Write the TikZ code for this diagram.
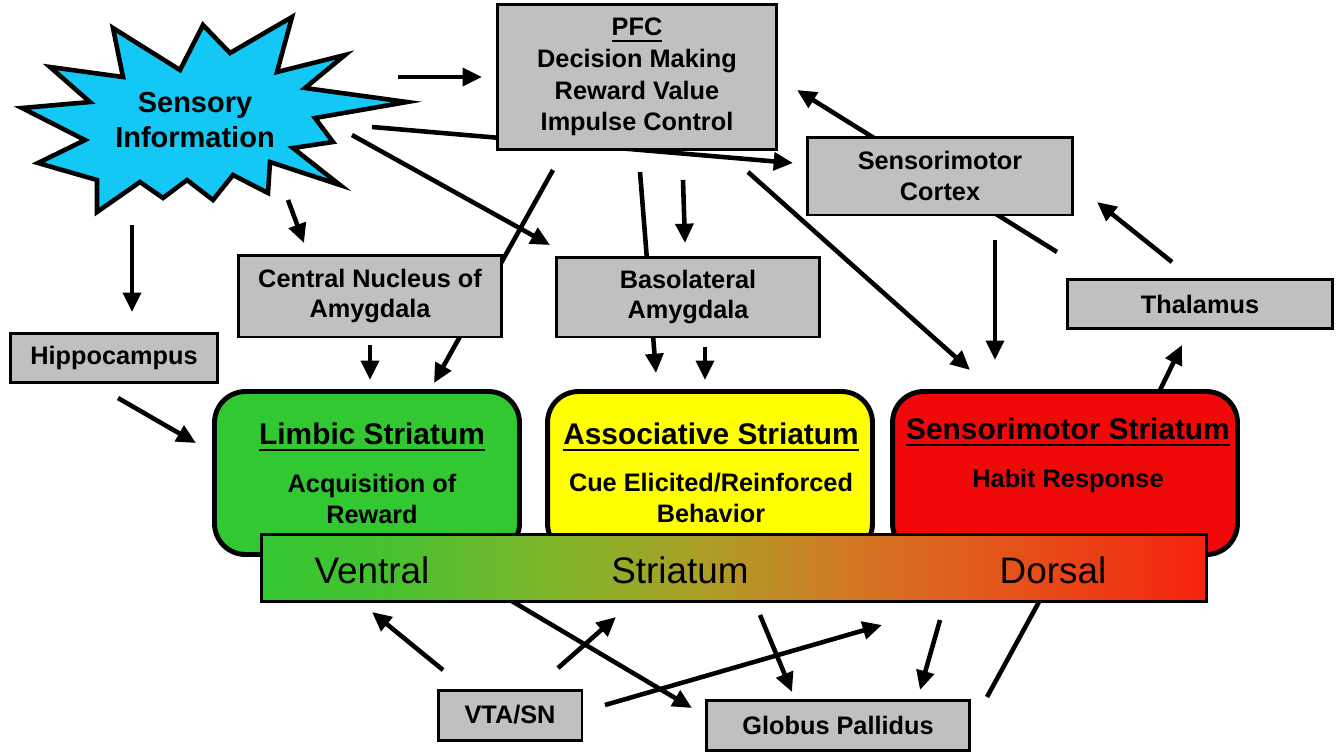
\documentclass[tikz,border=0pt]{standalone}
\usepackage{fontspec}
\setmainfont{Liberation Sans}
\usetikzlibrary{arrows.meta}
\newcommand{\ulbox}[1]{\setbox0\hbox{#1}\rlap{\rule[-3.4pt]{\wd0}{1.1pt}}\box0}
\definecolor{boxgray}{RGB}{192,192,192}
\definecolor{sensblue}{RGB}{20,200,245}
\definecolor{limbgreen}{RGB}{50,200,50}
\definecolor{assocyel}{RGB}{255,255,0}
\definecolor{smred}{RGB}{242,8,8}
\definecolor{barA}{RGB}{52,200,50}
\definecolor{barB}{RGB}{72,192,48}
\definecolor{barC}{RGB}{125,182,42}
\definecolor{barD}{RGB}{170,160,40}
\definecolor{barE}{RGB}{210,120,35}
\definecolor{barF}{RGB}{228,85,28}
\definecolor{barG}{RGB}{245,35,12}
\pgfdeclarehorizontalshading{stribar}{100bp}{color(0bp)=(barA); color(25bp)=(barA);
  color(32bp)=(barB); color(40bp)=(barC); color(48bp)=(barD); color(56bp)=(barE);
  color(64bp)=(barF); color(75bp)=(barG); color(100bp)=(barG)}

\begin{document}
\begin{tikzpicture}[
  x=0.02cm, y=-0.02cm,
  box/.style={draw, fill=boxgray, line width=1.7pt, inner sep=0pt, align=center,
    font=\bfseries\fontsize{14.4}{17.5}\selectfont},
  region/.style={draw, fill=#1, line width=2.8pt, rounded corners=0.62cm, inner sep=0pt,
    minimum height=3.26cm},
  title/.style={font=\bfseries\fontsize{17}{20}\selectfont},
  body/.style={font=\bfseries\fontsize{14.4}{17.2}\selectfont, align=center},
  big/.style={font=\fontsize{21}{24}\selectfont},
  arr/.style={-{Triangle[length=11pt,width=10pt]}, line width=2.6pt},
  plain/.style={line width=2.6pt}]
\useasboundingbox (0,0) rectangle (1341,755);

% connector ends
\foreach \n/\px/\py in {
  t1/398/77, h1/482/77, t2/372/127, h2/793/163, t3/352/135, h3/550/245,
  t4/288/200, h4/304/243, t5/132/225, h5/132/312, t6/553/170, h6/434/383,
  t7/370/345, h7/370/380, t8/640/172, h8/656/373, t9/683/180, h9/685/243,
  t10/705/347, h10/705/380, t11/748/172, h11/970/370, t12/995/240, h12/995/360,
  t13/1057/252, h13/797/90, t14/1172/262, h14/1097/202, t15/1160/390, h15/1182/345,
  t16/118/398, h16/196/443, t17/443/670, h17/372/612, t18/558/668, h18/616/617,
  t19/605/705, h19/882/625, t20/510/600, h20/692/708, t21/760/615, h21/792/692,
  t22/940/620, h22/920/690, t23/987/697, h23/1040/600}
  \coordinate (\n) at (\px,\py);

% sensory burst
\filldraw[fill=sensblue, line width=2.6pt, line join=miter]
  (22,108) -- (90,102) -- (50,67) -- (123,77) -- (113,28) -- (180,70) -- (203,25)
  -- (230,53) -- (292,17) -- (277,72) -- (345,55) -- (305,88) -- (407,102)
  -- (315,118) -- (333,142) -- (293,148) -- (340,185) -- (270,162) -- (268,193)
  -- (233,175) -- (213,200) -- (187,180) -- (163,198) -- (140,182) -- (97,212)
  -- (97,180) -- (38,163) -- (85,140) -- cycle;
\node[font=\bfseries\fontsize{16.5}{19.5}\selectfont, align=center] (sens) at (195,120)
  {Sensory\\Information};

% lines running behind boxes
\draw[arr] (t2) -- (h2);
\draw[arr] (t6) -- (h6);
\draw[arr] (t8) -- (h8);
\draw[arr] (t13) -- (h13);

% cortex and amygdala
\node[box, minimum width=5.6cm, minimum height=2.9cm, font=\bfseries\fontsize{14.4}{18}\selectfont]
  (pfc) at (637,77) {\ulbox{PFC}\\Decision Making\\Reward Value\\Impulse Control};
\node[box, minimum width=5.3cm, minimum height=1.56cm] (smc) at (940,176) {Sensorimotor\\Cortex};
\node[box, minimum width=5.3cm, minimum height=0.98cm] (thal) at (1200,304) {Thalamus};
\node[box, minimum width=4.16cm, minimum height=0.98cm] (hipp) at (114,358) {Hippocampus};
\node[box, minimum width=5.28cm, minimum height=1.64cm] (cea) at (370,296) {Central Nucleus of\\Amygdala};
\node[box, minimum width=5.28cm, minimum height=1.6cm] (bla) at (688,297) {Basolateral\\Amygdala};

% striatum
\node[region=limbgreen, minimum width=6.1cm] (limb) at (367,473) {};
\node[region=assocyel, minimum width=6.5cm] (assoc) at (710,473) {};
\node[region=smred, minimum width=6.9cm] (senstr) at (1065,473) {};
\node[title] (limbt) at (372,437) {\ulbox{Limbic Striatum}};
\node[body] (limbb) at (372,499) {Acquisition of\\Reward};
\node[title] (assoct) at (711,437) {\ulbox{Associative Striatum}};
\node[body] (assocb) at (711,498) {Cue Elicited/Reinforced\\Behavior};
\node[title] (senst) at (1068,432) {\ulbox{Sensorimotor Striatum}};
\node[body] (sensb) at (1068,481) {Habit Response};

\draw[arr] (t20) -- (h20);
\draw[plain] (t23) -- (h23);
\node[draw, line width=2pt, shading=stribar, minimum width=18.9cm, minimum height=1.34cm,
  inner sep=0pt] (bar) at (734,568) {};
\node[big] (ventral) at (372,570) {Ventral};
\node[big] (striatum) at (680,570) {Striatum};
\node[big] (dorsal) at (1053,570) {Dorsal};

% midbrain and pallidum
\node[box, minimum width=2.88cm, minimum height=1cm] (vta) at (510,715) {VTA/SN};
\node[box, minimum width=5.26cm, minimum height=1cm] (gp) at (838,725) {Globus Pallidus};

% connections
\foreach \i in {1,3,4,5,7,9,10,11,12,14,15,16,17,18,19,21,22}
  \draw[arr] (t\i) -- (h\i);

\end{tikzpicture}
\end{document}
